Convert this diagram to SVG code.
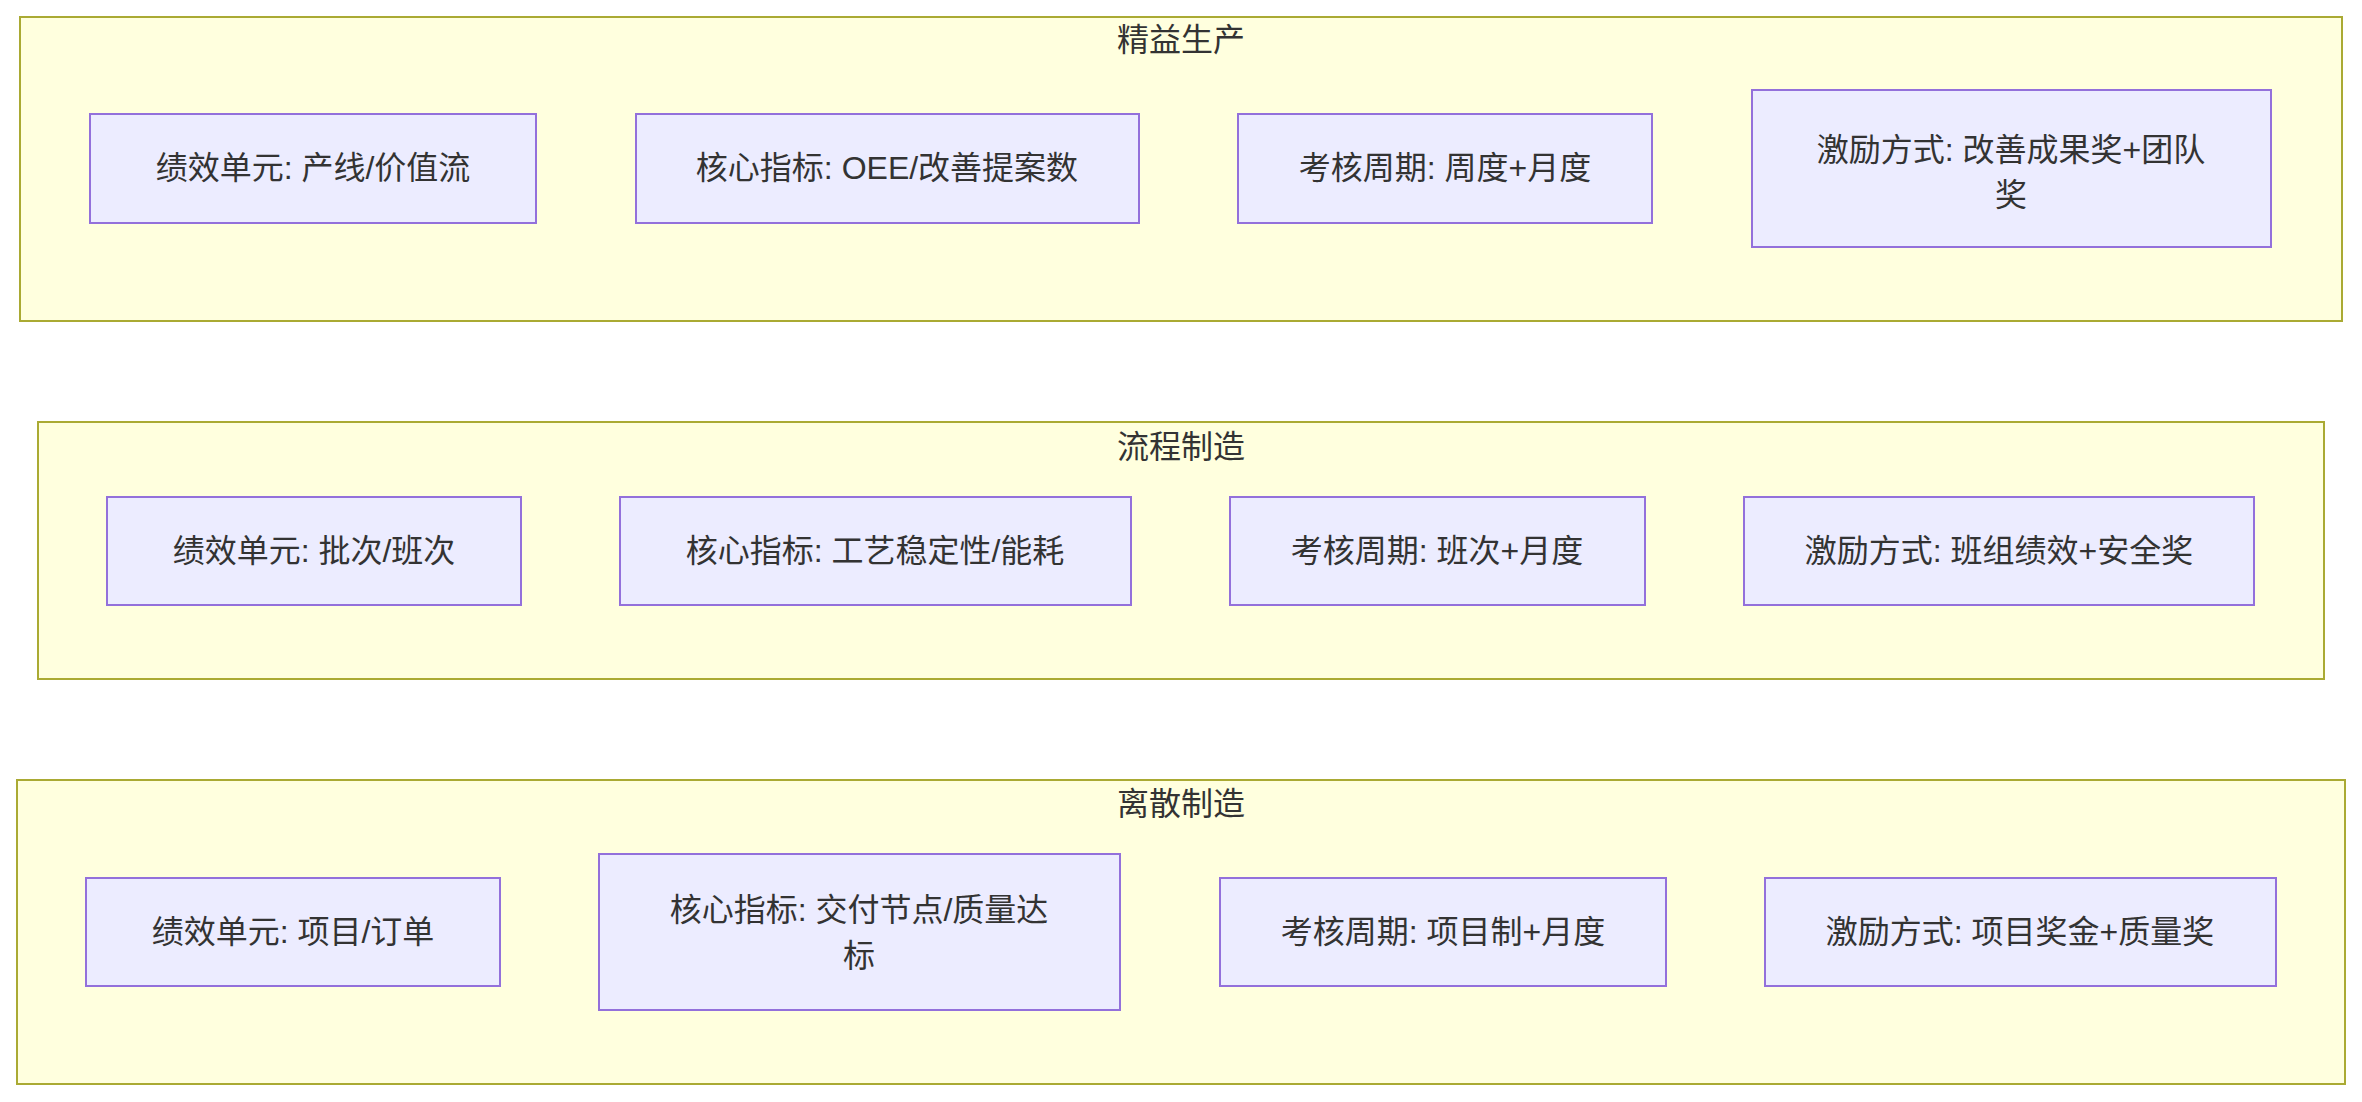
<svg xmlns="http://www.w3.org/2000/svg" width="2362" height="1102" viewBox="0 0 2362 1102">
<style>
.c{fill:#ffffde;stroke:#aaaa33;stroke-width:2}
.n{fill:#ececff;stroke:#9370db;stroke-width:2}
text{font-family:"Liberation Sans","Noto Sans CJK SC",sans-serif;font-size:32px;fill:#333;text-anchor:middle;dominant-baseline:central}
</style>
<rect width="2362" height="1102" fill="#fff"/>
<g id="lean"><rect class="c" x="20" y="17" width="2322" height="304"/><text x="1181" y="40">精益生产</text></g>
<g id="l1"><rect class="n" x="90" y="114" width="446" height="109"/><text x="313" y="168">绩效单元: 产线/价值流</text></g>
<g id="l2"><rect class="n" x="636" y="114" width="503" height="109"/><text x="887" y="168">核心指标: OEE/改善提案数</text></g>
<g id="l3"><rect class="n" x="1238" y="114" width="414" height="109"/><text x="1445" y="168">考核周期: 周度+月度</text></g>
<g id="l4"><rect class="n" x="1752" y="90" width="519" height="157"/><text x="2011" y="150">激励方式: 改善成果奖+团队</text><text x="2011" y="195">奖</text></g>
<g id="process"><rect class="c" x="38" y="422" width="2286" height="257"/><text x="1181" y="447">流程制造</text></g>
<g id="p1"><rect class="n" x="107" y="497" width="414" height="108"/><text x="314" y="551">绩效单元: 批次/班次</text></g>
<g id="p2"><rect class="n" x="620" y="497" width="511" height="108"/><text x="875" y="551">核心指标: 工艺稳定性/能耗</text></g>
<g id="p3"><rect class="n" x="1230" y="497" width="415" height="108"/><text x="1437" y="551">考核周期: 班次+月度</text></g>
<g id="p4"><rect class="n" x="1744" y="497" width="510" height="108"/><text x="1999" y="551">激励方式: 班组绩效+安全奖</text></g>
<g id="discrete"><rect class="c" x="17" y="780" width="2328" height="304"/><text x="1181" y="804">离散制造</text></g>
<g id="d1"><rect class="n" x="86" y="878" width="414" height="108"/><text x="293" y="932">绩效单元: 项目/订单</text></g>
<g id="d2"><rect class="n" x="599" y="854" width="521" height="156"/><text x="859" y="910">核心指标: 交付节点/质量达</text><text x="859" y="956">标</text></g>
<g id="d3"><rect class="n" x="1220" y="878" width="446" height="108"/><text x="1443" y="932">考核周期: 项目制+月度</text></g>
<g id="d4"><rect class="n" x="1765" y="878" width="511" height="108"/><text x="2020" y="932">激励方式: 项目奖金+质量奖</text></g>
<g id="connectors"/>
</svg>
